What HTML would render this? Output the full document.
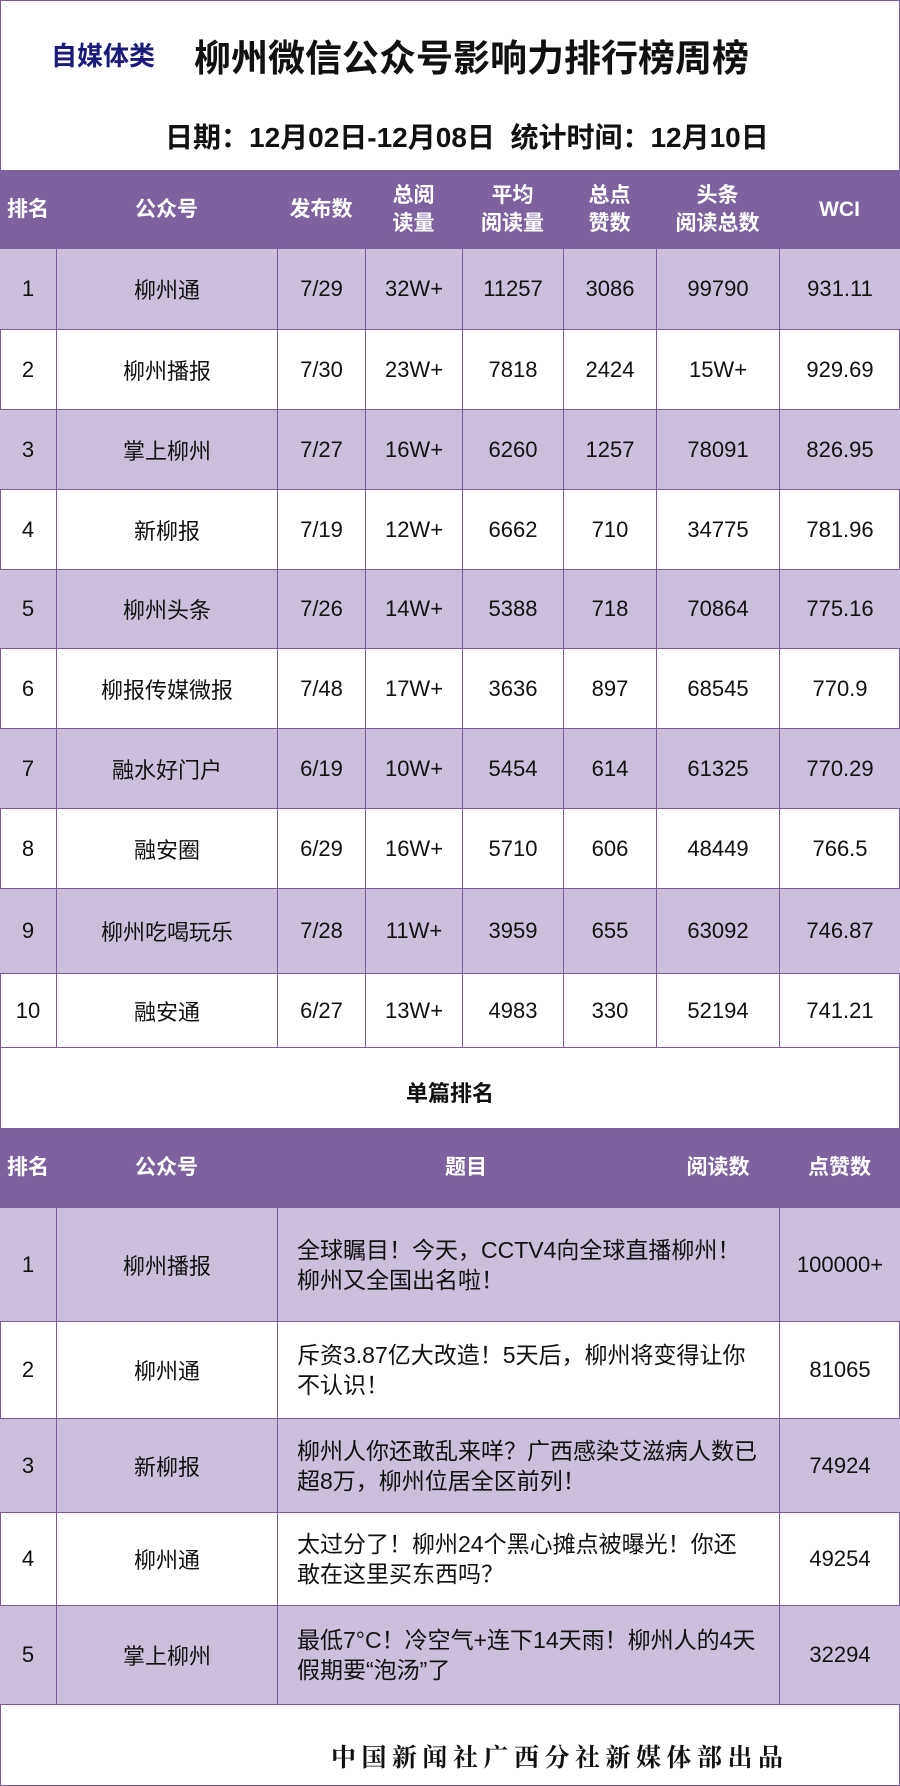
<!DOCTYPE html>
<html><head><meta charset="utf-8"><style>
*{margin:0;padding:0;box-sizing:border-box}
body{width:900px;height:1786px;background:#fff;position:relative;overflow:hidden;font-family:"Liberation Sans","Noto Sans CJK SC",sans-serif;color:#111}
.a{position:absolute}
.frame{position:absolute;left:0;top:0;width:900px;height:1786px;border:1px solid #7a5a9a}
.hd{position:absolute;left:0;width:900px;background:#7e62a0;color:#fff;font-weight:bold;font-size:21px}
.hd div{position:absolute;text-align:center;line-height:28px;transform:translateY(-50%)}
.row{position:absolute;left:0;width:900px;border-bottom:1px solid #7a5a9a}
.row.p{background:#cbbfdb}
.c{position:absolute;top:0;height:100%;display:flex;align-items:center;justify-content:center;font-size:22px;border-left:1px solid #7a5a9a}
.c:first-child{border-left:none}
.t{justify-content:flex-start;padding-left:19px;line-height:30px;font-size:23px}
</style></head><body>
<div class="frame"></div>
<div class="a" style="left:51px;top:36px;font-size:26px;font-weight:bold;color:#1a1a7a">自媒体类</div>
<div class="a" style="left:194px;top:28px;font-size:37px;font-weight:bold;color:#111">柳州微信公众号影响力排行榜周榜</div>
<div class="a" style="left:165px;top:116px;font-size:28px;font-weight:bold;color:#111">日期：12月02日-12月08日&nbsp; 统计时间：12月10日</div>

<div class="hd" style="top:170px;height:79px">
<div style="left:0;width:56px;top:40px">排名</div>
<div style="left:56px;width:221px;top:40px">公众号</div>
<div style="left:277px;width:88px;top:40px">发布数</div>
<div style="left:365px;width:97px;top:40px">总阅<br>读量</div>
<div style="left:462px;width:101px;top:40px">平均<br>阅读量</div>
<div style="left:563px;width:93px;top:40px">总点<br>赞数</div>
<div style="left:656px;width:123px;top:40px">头条<br>阅读总数</div>
<div style="left:779px;width:121px;top:40px">WCI</div>
</div>

<div id="t1"></div>

<div class="a" style="left:0;top:1076px;width:900px;text-align:center;font-size:22px;font-weight:bold">单篇排名</div>

<div class="hd" style="top:1128px;height:80px">
<div style="left:0;width:56px;top:40px">排名</div>
<div style="left:56px;width:221px;top:40px">公众号</div>
<div style="left:416px;width:100px;top:40px">题目</div>
<div style="left:668px;width:100px;top:40px">阅读数</div>
<div style="left:779px;width:121px;top:40px">点赞数</div>
</div>

<div class="row p" style="top:1208px;height:114px"><div class="c" style="left:0;width:56px">1</div><div class="c" style="left:56px;width:221px">柳州播报</div><div class="c t" style="left:277px;width:502px">全球瞩目！今天，CCTV4向全球直播柳州！<br>柳州又全国出名啦！</div><div class="c" style="left:779px;width:121px">100000+</div></div>
<div class="row" style="top:1322px;height:97px"><div class="c" style="left:0;width:56px">2</div><div class="c" style="left:56px;width:221px">柳州通</div><div class="c t" style="left:277px;width:502px">斥资3.87亿大改造！5天后，柳州将变得让你<br>不认识！</div><div class="c" style="left:779px;width:121px">81065</div></div>
<div class="row p" style="top:1419px;height:94px"><div class="c" style="left:0;width:56px">3</div><div class="c" style="left:56px;width:221px">新柳报</div><div class="c t" style="left:277px;width:502px">柳州人你还敢乱来咩？广西感染艾滋病人数已<br>超8万，柳州位居全区前列！</div><div class="c" style="left:779px;width:121px">74924</div></div>
<div class="row" style="top:1513px;height:93px"><div class="c" style="left:0;width:56px">4</div><div class="c" style="left:56px;width:221px">柳州通</div><div class="c t" style="left:277px;width:502px">太过分了！柳州24个黑心摊点被曝光！你还<br>敢在这里买东西吗？</div><div class="c" style="left:779px;width:121px">49254</div></div>
<div class="row p" style="top:1606px;height:99px"><div class="c" style="left:0;width:56px">5</div><div class="c" style="left:56px;width:221px">掌上柳州</div><div class="c t" style="left:277px;width:502px">最低7°C！冷空气+连下14天雨！柳州人的4天<br>假期要“泡汤”了</div><div class="c" style="left:779px;width:121px">32294</div></div>

<div class="a" style="left:331px;top:1738px;font-size:25px;letter-spacing:5.5px;font-family:'Liberation Serif','Noto Serif CJK SC',serif;font-weight:bold">中国新闻社广西分社新媒体部出品</div>

<script>
var d=[["1","柳州通","7/29","32W+","11257","3086","99790","931.11"],
["2","柳州播报","7/30","23W+","7818","2424","15W+","929.69"],
["3","掌上柳州","7/27","16W+","6260","1257","78091","826.95"],
["4","新柳报","7/19","12W+","6662","710","34775","781.96"],
["5","柳州头条","7/26","14W+","5388","718","70864","775.16"],
["6","柳报传媒微报","7/48","17W+","3636","897","68545","770.9"],
["7","融水好门户","6/19","10W+","5454","614","61325","770.29"],
["8","融安圈","6/29","16W+","5710","606","48449","766.5"],
["9","柳州吃喝玩乐","7/28","11W+","3959","655","63092","746.87"],
["10","融安通","6/27","13W+","4983","330","52194","741.21"]];
var cols=[[0,56],[56,221],[277,88],[365,97],[462,101],[563,93],[656,123],[779,121]];
var tops=[249,330,410,490,570,649,729,809,889,974,1048];
var h="";
for(var i=0;i<10;i++){h+='<div class="row'+(i%2==0?' p':'')+'" style="top:'+tops[i]+'px;height:'+(tops[i+1]-tops[i])+'px">';
for(var j=0;j<8;j++)h+='<div class="c" style="left:'+cols[j][0]+'px;width:'+cols[j][1]+'px">'+d[i][j]+'</div>';
h+='</div>';}
document.getElementById('t1').innerHTML=h;
</script>
</body></html>
